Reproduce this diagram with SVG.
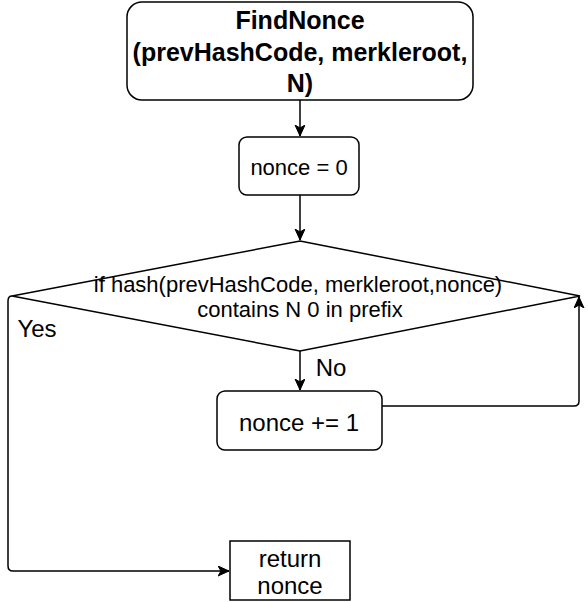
<svg xmlns="http://www.w3.org/2000/svg" width="588" height="602" viewBox="0 0 588 602">
<style>
.box{fill:#fff;stroke:#000;stroke-width:1.5}
.edge{fill:none;stroke:#000;stroke-width:1.5}
.t{font-family:"Liberation Sans",Arial,Helvetica,sans-serif;font-size:22px;fill:#000;text-anchor:middle}
.l{font-size:24px}
.tb{font-family:"Liberation Sans",Arial,Helvetica,sans-serif;font-size:25px;font-weight:bold;fill:#000;text-anchor:middle}
</style>
<defs>
<marker id="arr" markerUnits="userSpaceOnUse" markerWidth="14" markerHeight="12" refX="11" refY="5" orient="auto">
<path d="M0,0 L11,5 L0,10 L3,5 Z" fill="#000" stroke="#000" stroke-width="1"/>
</marker>
</defs>
<rect width="588" height="602" fill="#fff"/>
<g id="connectors">
<path class="edge" d="M300,100 L300,136" marker-end="url(#arr)"/>
<path class="edge" d="M300,195 L300,240" marker-end="url(#arr)"/>
<path class="edge" d="M300,350 L300,390" marker-end="url(#arr)"/>
<path class="edge" d="M382,406 L574,406 Q579,406 579,401 L579,297" marker-end="url(#arr)"/>
<path class="edge" d="M12,296 Q8,296 8,301 L8,566 Q8,571 13,571 L229,571" marker-end="url(#arr)"/>
<text class="t l" x="37" y="337">Yes</text>
<text class="t l" x="331" y="376">No</text>
</g>
<g id="start">
<rect class="box" x="127" y="2" width="346" height="98" rx="15" ry="15"/>
<text class="tb" x="300" y="29">FindNonce</text>
<text class="tb" x="300" y="61">(prevHashCode, merkleroot,</text>
<text class="tb" x="300" y="92">N)</text>
</g>
<g id="init">
<rect class="box" x="239" y="137" width="120" height="58" rx="8" ry="8"/>
<text class="t" x="299" y="175">nonce = 0</text>
</g>
<g id="decision">
<path class="box" d="M300,241 L580,296 L300,351 L12,296 Z"/>
<text class="t" x="298" y="292">if hash(prevHashCode, merkleroot,nonce)</text>
<text class="t" x="300" y="317">contains N 0 in prefix</text>
</g>
<g id="increment">
<rect class="box" x="217" y="391" width="165" height="59" rx="8" ry="8"/>
<text class="t l" x="299" y="431">nonce += 1</text>
</g>
<g id="return">
<rect class="box" x="230" y="541" width="120" height="59"/>
<text class="t l" x="290" y="567">return</text>
<text class="t l" x="290" y="594">nonce</text>
</g>
</svg>
